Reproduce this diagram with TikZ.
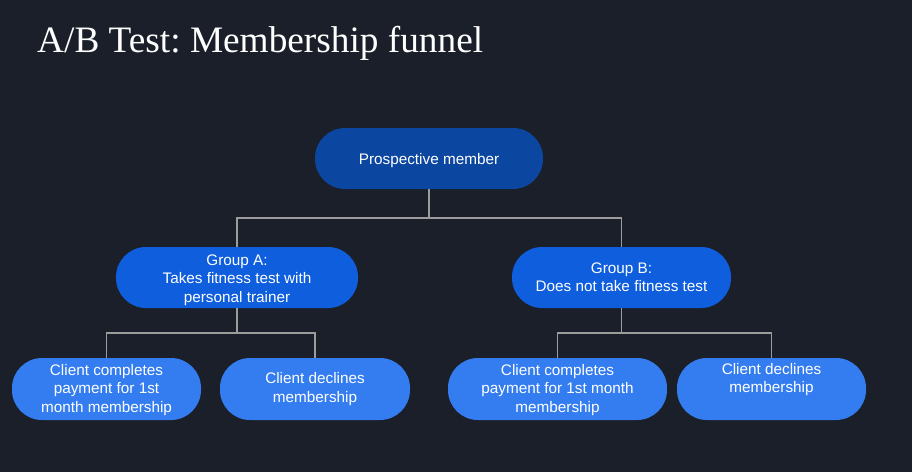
\documentclass[tikz,border=0pt]{standalone}
\usepackage{fontspec}
\setmainfont{Liberation Sans}
\newfontfamily\titlefont{Liberation Serif}
\frenchspacing
\newcommand\tallstrut{\rule{0pt}{16pt}}
\begin{document}
\definecolor{bg}{HTML}{1B1F2A}
\definecolor{rootblue}{HTML}{0B46A0}
\definecolor{groupblue}{HTML}{0E5EDE}
\definecolor{leafblue}{HTML}{347DF1}
\definecolor{linkgray}{HTML}{9C9C9C}
\begin{tikzpicture}[x=1pt,y=-1pt,
  pill/.style={rectangle, rounded corners=30pt, draw=none, text=white,
    align=center, inner sep=0pt,
    font=\fontsize{15.3}{18.4}\selectfont},
  rootpill/.style={pill, fill=rootblue, minimum height=61pt},
  grouppill/.style={pill, fill=groupblue, minimum height=61pt},
  leafpill/.style={pill, fill=leafblue, minimum height=62pt},
  link/.style={draw=linkgray, line width=1.2pt}]
\useasboundingbox[fill=bg] (0,0) rectangle (912,472);

% title
\node[anchor=base west, inner sep=0pt, text=white,
  font=\titlefont\fontsize{37.3}{40}\selectfont] (title) at (37,52)
  {A/B Test: Membership funnel};

% root
\node[rootpill, minimum width=228pt] (root) at (429,158.5) {\tallstrut Prospective member};

% groups
\node[grouppill, minimum width=242pt] (ga) at (237,277.5)
  {\tallstrut Group A:\\Takes fitness test with\\personal trainer};
\node[grouppill, minimum width=219pt] (gb) at (621.5,277.5)
  {Group B:\\Does not take fitness test};

% outcomes
\node[leafpill, minimum width=189pt] (a1) at (106.5,389)
  {\strut Client completes\\payment for 1st\\month membership};
\node[leafpill, minimum width=190pt] (a2) at (315,389)
  {Client declines\\membership};
\node[leafpill, minimum width=219pt] (b1) at (557.5,389)
  {\strut Client completes\\payment for 1st month\\membership};
\node[leafpill, minimum width=189pt] (b2) at (771.5,389)
  {\strut Client declines\\membership\\\strut};

% elbow connectors
\coordinate (jr) at (429,218);
\coordinate (ja) at (237,333);
\coordinate (jb) at (621.5,333);
\draw[link] (root.south) -- (jr) -| (ga.north);
\draw[link] (jr) -| (gb.north);
\draw[link] (ga.south) -- (ja) -| (a1.north);
\draw[link] (ja) -| (a2.north);
\draw[link] (gb.south) -- (jb) -| (b1.north);
\draw[link] (jb) -| (b2.north);
\end{tikzpicture}
\end{document}
